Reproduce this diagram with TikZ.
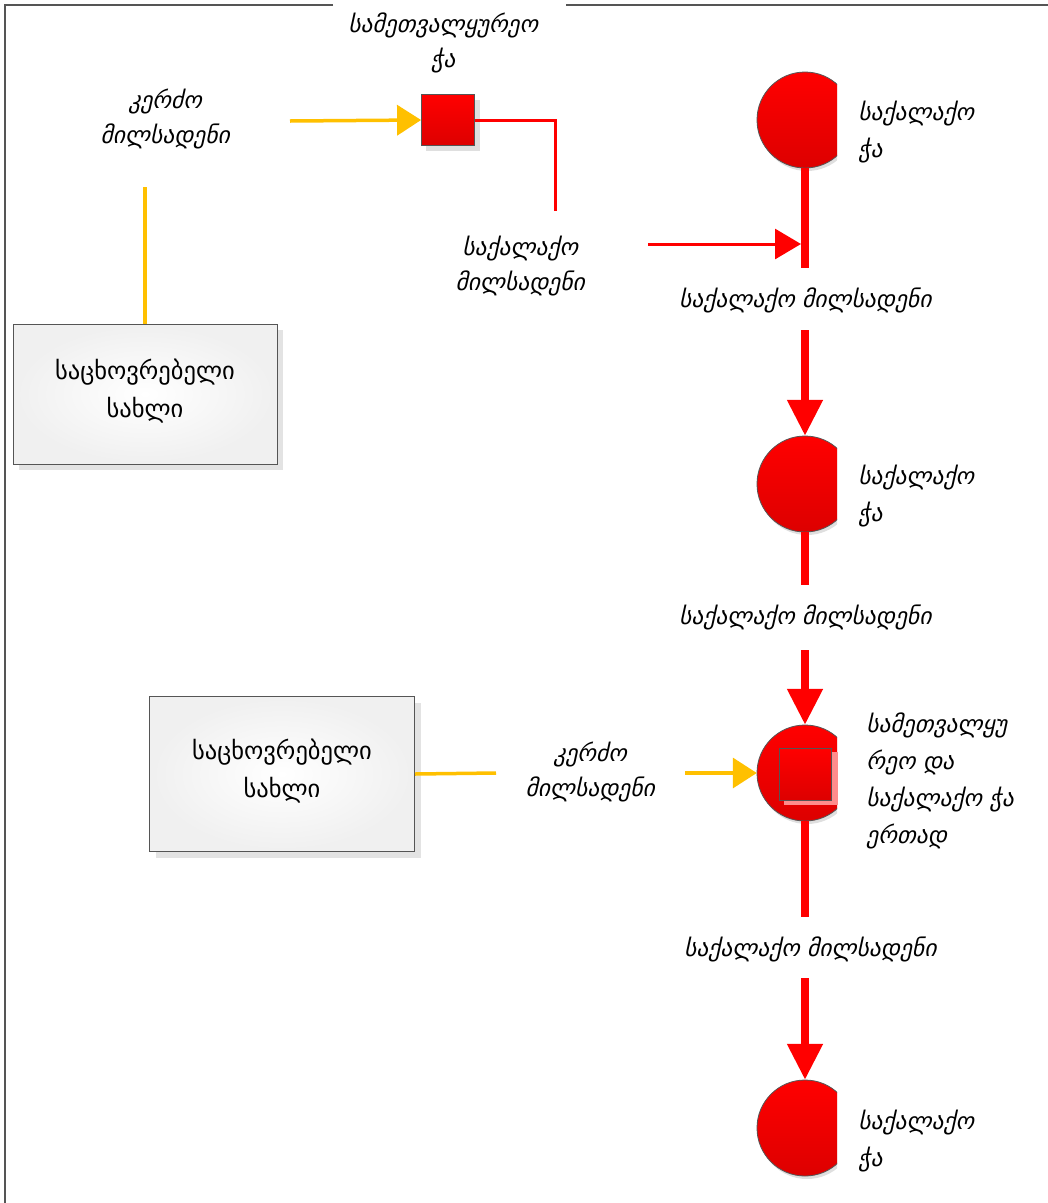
\documentclass[tikz,border=0pt]{standalone}
\usepackage{fontspec}
\setmainfont{DejaVu Sans}
\newfontfamily\geoit[FakeSlant=0.22]{DejaVu Sans}
\newfontfamily\geobf{DejaVu Sans}
\usetikzlibrary{arrows.meta,calc}
\definecolor{pipeyellow}{HTML}{FFC000}
\definecolor{pipered}{HTML}{FF0000}
\definecolor{darkred}{HTML}{DD0000}
\definecolor{framegray}{HTML}{555555}
\tikzset{
  lbl/.style={font=\geoit\fontsize{23.5}{35}\selectfont, align=center, inner sep=0pt},
  lblleft/.style={font=\geoit\fontsize{23.5}{37}\selectfont, align=left, anchor=west, inner sep=0pt},
  housebox/.style={draw=framegray, line width=1pt, fill=white, inner color=white, outer color=gray!12,
     font=\geobf\fontsize{24.5}{38}\selectfont, align=center},
  yline/.style={draw=pipeyellow, line width=3.5pt},
  yarrow/.style={yline, -{Triangle[length=24pt,width=30pt]}},
  rthin/.style={draw=pipered, line width=3pt},
  rthinarrow/.style={rthin, -{Triangle[length=26pt,width=30pt]}},
  rthick/.style={draw=pipered, line width=8pt},
  rthickarrow/.style={rthick, -{Triangle[length=36pt,width=34pt]}},
  wellc/.style={circle, minimum size=96pt, inner sep=0pt},
}
\begin{document}
\begin{tikzpicture}[x=1pt,y=-1pt]
\useasboundingbox (0,0) rectangle (1048,1203);
% frame
\draw[framegray, line width=2pt] (333,5) -- (5,5) -- (5,1203);
\draw[framegray, line width=2pt] (566,5) -- (1048,5);

% circle nodes (placeholders)
\foreach \n/\y in {c1/120, c2/484, c3/773, c4/1128}{
  \node[wellc] (\n) at (805,\y) {};
  \begin{scope}
    \clip (740,\y-60) rectangle (837,\y+60);
    \fill[gray!25] (807,\y+3) circle (48);
    \shade[top color=pipered, bottom color=darkred, draw=framegray, line width=0.8pt] (805,\y) circle (48);
  \end{scope}
}

% square of combined well
\fill[pipered!45] (784,752) rectangle (838,805);
\node[draw=framegray, line width=1pt, top color=pipered, bottom color=darkred, minimum width=52pt, minimum height=52pt, inner sep=0pt] (sq2) at (805,774) {};

% inspection well square
\fill[gray!25] (426,100) rectangle (480,151);
\node[draw=framegray, line width=0.8pt, top color=pipered, bottom color=darkred, minimum width=53pt, minimum height=51pt, inner sep=0pt] (sq1) at (448,120) {};
\node[lbl] (samL) at (443,43) {სამეთვალყურეო\\ჭა};

% houses
\fill[gray!22] (19,330) rectangle (283,470);
\node[housebox, minimum width=264pt, minimum height=140pt] (h1) at (145,394) {};
\node[font=\geobf\fontsize{24.5}{38}\selectfont, align=center, inner sep=0pt] (h1t) at (145,391) {საცხოვრებელი\\სახლი};
\fill[gray!22] (156,703) rectangle (421,858);
\node[housebox, minimum width=265pt, minimum height=155pt] (h2) at (282,774) {};
\node[font=\geobf\fontsize{24.5}{38}\selectfont, align=center, inner sep=0pt] (h2t) at (282,771) {საცხოვრებელი\\სახლი};

% labels
\node[lbl] (k1) at (165,119) {კერძო\\მილსადენი};
\node[lbl] (k2) at (590,772) {კერძო\\მილსადენი};
\node[lbl] (p1) at (520,266) {საქალაქო\\მილსადენი};
\node[lbl] (m1) at (805,300) {საქალაქო მილსადენი};
\node[lbl] (m2) at (805,617) {საქალაქო მილსადენი};
\node[lbl] (m3) at (810,949) {საქალაქო მილსადენი};
\node[lblleft] (t1) at (858,132) {საქალაქო\\ჭა};
\node[lblleft] (t2) at (858,496) {საქალაქო\\ჭა};
\node[lblleft] (t3) at (866,781) {სამეთვალყუ\\რეო და\\საქალაქო ჭა\\ერთად};
\node[lblleft] (t4) at (858,1141) {საქალაქო\\ჭა};

% coordinates for free ends
\coordinate (ya) at (145,187);
\coordinate (yb) at (290,121);
\coordinate (rc) at (555,120);
\coordinate (rd) at (555,211);
\coordinate (re) at (648,244);
\coordinate (rf) at (801,244);
\coordinate (m1a) at (805,268);
\coordinate (m1b) at (805,330);
\coordinate (m2a) at (805,585);
\coordinate (m2b) at (805,650);
\coordinate (m3a) at (805,917);
\coordinate (m3b) at (805,978);
\coordinate (k2a) at (496,773);
\coordinate (k2b) at (685,773);

% yellow pipes
\draw[yline] (h1.north) -- (ya);
\draw[yarrow] (yb) -- (sq1.west);
\draw[yline] (h2.east) -- (k2a);
\draw[yarrow] (k2b) -- (c3.west);

% thin red
\draw[rthin] (sq1.east) -- (rc) -- (rd);
\draw[rthinarrow] (re) -- (rf);

% thick red
\draw[rthick] (c1.south) -- (m1a);
\draw[rthickarrow] (m1b) -- (c2.north);
\draw[rthick] (c2.south) -- (m2a);
\draw[rthickarrow] (m2b) -- (c3.north);
\draw[rthick] (c3.south) -- (m3a);
\draw[rthickarrow] (m3b) -- (c4.north);
\end{tikzpicture}
\end{document}
